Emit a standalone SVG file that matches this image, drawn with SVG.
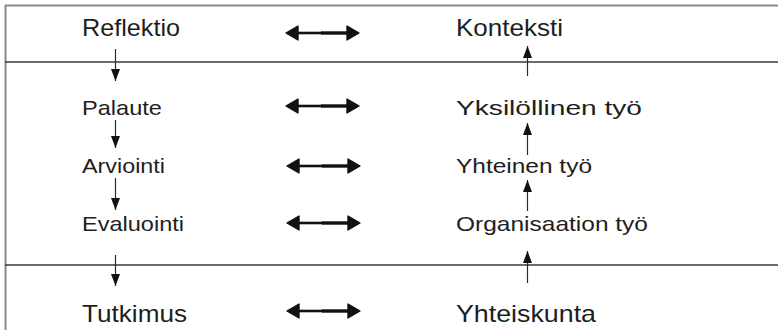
<svg xmlns="http://www.w3.org/2000/svg" width="778" height="330" viewBox="0 0 778 330">
  <style>
    .frame { stroke: #8a8a8a; stroke-width: 2; fill: none; }
    .divider { stroke: #3a3a3a; stroke-width: 1.4; fill: none; }
    .lbl { font-family: "Liberation Sans", Arial, sans-serif; fill: #1e1e1e; }
    .big { font-size: 24px; }
    .small { font-size: 21px; }
    .flow { stroke: #2a2a2a; stroke-width: 1.2; fill: none; }
    .head { fill: #111; }
    .dbl-thin { stroke: #111; stroke-width: 2.6; }
    .dbl-thick { stroke: #111; stroke-width: 3.4; }
    .dbl-head { fill: #111; stroke: #111; stroke-width: 1.4; stroke-linejoin: round; }
  </style>
  <defs>
    <marker id="tri" viewBox="0 0 12 9" refX="12" refY="4.5" markerWidth="12" markerHeight="9" markerUnits="userSpaceOnUse" orient="auto">
      <path d="M0,0 L12,4.5 L0,9 Z" class="head"/>
    </marker>
    <!-- double-headed bar used between the two columns -->
    <g id="dbl">
      <line x1="296" y1="0" x2="322" y2="0" class="dbl-thin"/>
      <line x1="321" y1="0" x2="349" y2="0" class="dbl-thick"/>
      <polygon points="286,0 298,-7 298,7" class="dbl-head"/>
      <polygon points="359,0 347,-7 347,7" class="dbl-head"/>
    </g>
  </defs>

  <!-- frame and section dividers -->
  <g id="frame">
    <line x1="5" y1="5.5" x2="778" y2="5.5" class="frame"/>
    <line x1="5.5" y1="5" x2="5.5" y2="330" class="frame"/>
    <line x1="5" y1="62" x2="778" y2="62" class="divider"/>
    <line x1="5" y1="265" x2="778" y2="265" class="divider"/>
  </g>

  <!-- left column -->
  <g id="reflektio"><text x="82" y="36" class="lbl big" textLength="98" lengthAdjust="spacingAndGlyphs">Reflektio</text></g>
  <g id="palaute"><text x="82" y="115" class="lbl small" textLength="80" lengthAdjust="spacingAndGlyphs">Palaute</text></g>
  <g id="arviointi"><text x="82" y="173" class="lbl small" textLength="83" lengthAdjust="spacingAndGlyphs">Arviointi</text></g>
  <g id="evaluointi"><text x="82" y="231" class="lbl small" textLength="102" lengthAdjust="spacingAndGlyphs">Evaluointi</text></g>
  <g id="tutkimus"><text x="82" y="322" class="lbl big" textLength="105" lengthAdjust="spacingAndGlyphs">Tutkimus</text></g>

  <!-- right column -->
  <g id="konteksti"><text x="456" y="36" class="lbl big" textLength="107" lengthAdjust="spacingAndGlyphs">Konteksti</text></g>
  <g id="yksilollinen"><text x="456" y="115" class="lbl small" textLength="186" lengthAdjust="spacingAndGlyphs">Yksilöllinen työ</text></g>
  <g id="yhteinen"><text x="456" y="173" class="lbl small" textLength="136" lengthAdjust="spacingAndGlyphs">Yhteinen työ</text></g>
  <g id="organisaatio"><text x="456" y="231" class="lbl small" textLength="192" lengthAdjust="spacingAndGlyphs">Organisaation työ</text></g>
  <g id="yhteiskunta"><text x="456" y="322" class="lbl big" textLength="140" lengthAdjust="spacingAndGlyphs">Yhteiskunta</text></g>

  <!-- connectors -->
  <g id="connectors">
    <!-- downward chain, left column -->
    <line x1="115.5" y1="49" x2="115.5" y2="81" class="flow" marker-end="url(#tri)"/>
    <line x1="115.5" y1="120" x2="115.5" y2="148" class="flow" marker-end="url(#tri)"/>
    <line x1="115.5" y1="178" x2="115.5" y2="210" class="flow" marker-end="url(#tri)"/>
    <line x1="115.5" y1="255" x2="115.5" y2="286" class="flow" marker-end="url(#tri)"/>
    <!-- upward chain, right column -->
    <line x1="527.5" y1="76" x2="527.5" y2="46" class="flow" marker-end="url(#tri)"/>
    <line x1="527.5" y1="155" x2="527.5" y2="123" class="flow" marker-end="url(#tri)"/>
    <line x1="527.5" y1="211" x2="527.5" y2="180" class="flow" marker-end="url(#tri)"/>
    <line x1="527.5" y1="283" x2="527.5" y2="251" class="flow" marker-end="url(#tri)"/>
    <!-- two-way links between the columns -->
    <use href="#dbl" transform="translate(0,33)"/>
    <use href="#dbl" transform="translate(0,106)"/>
    <use href="#dbl" transform="translate(1,166)"/>
    <use href="#dbl" transform="translate(1,223)"/>
    <use href="#dbl" transform="translate(1,311)"/>
  </g>
</svg>
